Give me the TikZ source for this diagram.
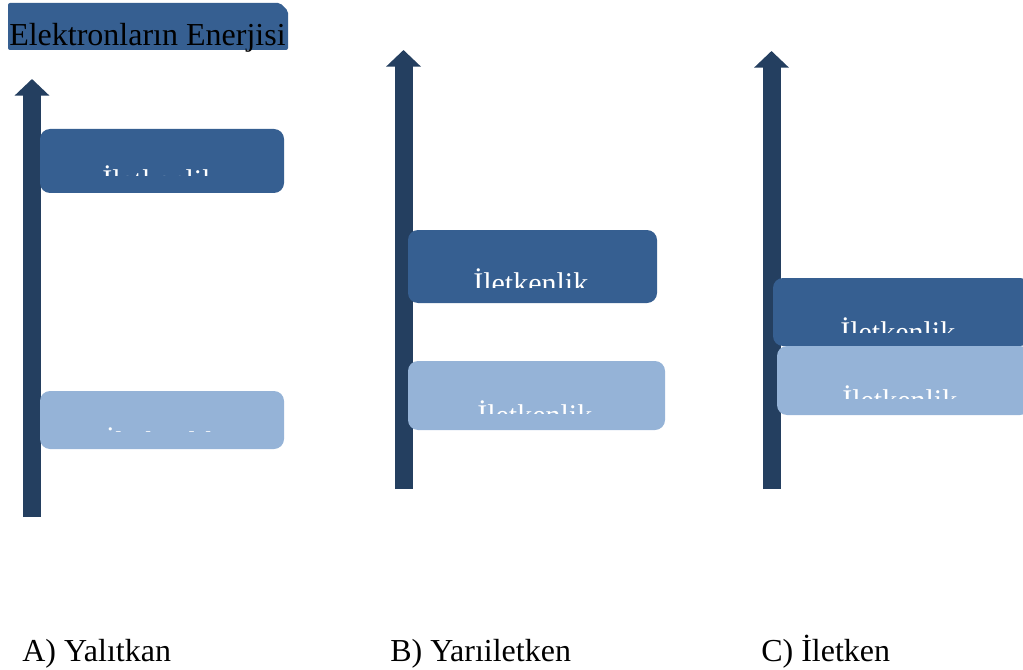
\documentclass[tikz,border=0pt]{standalone}
\usepackage{fontspec}
\setmainfont{Liberation Serif}
\usetikzlibrary{arrows.meta}
\definecolor{axisblue}{HTML}{243F60}
\definecolor{banddark}{HTML}{365F91}
\definecolor{bandlight}{HTML}{95B3D7}
\begin{document}
\begin{tikzpicture}[x=0.75pt,y=-0.75pt,
  axis/.style={draw=axisblue, line width=13.5pt,
    -{Triangle[length=12.5pt,width=25.5pt]}},
  darkband/.style={fill=banddark, rounded corners=7.5pt},
  lightband/.style={fill=bandlight, rounded corners=7.5pt},
  bandtext/.style={text=white, inner sep=0pt, anchor=base west,
    font=\fontsize{22.5}{26}\selectfont},
  caption/.style={inner sep=0pt, anchor=base west,
    font=\fontsize{24}{28}\selectfont}]
\useasboundingbox (0,0) rectangle (1023,670);

% heading tab
\fill[banddark, rounded corners=1.5pt] (8,50) -- (8,3) -- (280,3) -- (288,11) -- (288,50) -- cycle;
\node[caption] (title) at (9,46) {Elektronların Enerjisi};

% energy axes
\coordinate (A0) at (32,517);  \coordinate (A1) at (32,79);
\coordinate (B0) at (403.5,489); \coordinate (B1) at (403.5,50);
\coordinate (C0) at (771.5,489); \coordinate (C1) at (771.5,51);
\draw[axis] (A0) -- (A1);
\draw[axis] (B0) -- (B1);
\draw[axis] (C0) -- (C1);

% A) insulator: wide gap
\fill[darkband] (40,129) rectangle (284,193);
\begin{scope}
  \clip (40,129) rectangle (284,176);
  \node[bandtext] (Acb) at (102,191) {İletkenlik};
\end{scope}
\fill[lightband] (40,391) rectangle (284,449);
\begin{scope}
  \clip (40,391) rectangle (284,431);
  \node[bandtext] (Avb) at (105,452) {İletkenlik};
\end{scope}

% B) semiconductor: narrow gap
\fill[darkband] (408,230) rectangle (657,303);
\begin{scope}
  \clip (408,230) rectangle (657,287);
  \node[bandtext] (Bcb) at (473,293) {İletkenlik};
\end{scope}
\fill[lightband] (408,361) rectangle (665,430);
\begin{scope}
  \clip (408,361) rectangle (665,413);
  \node[bandtext] (Bvb) at (477,425) {İletkenlik};
\end{scope}

% C) conductor: overlapping bands
\fill[darkband] (773,278) rectangle (1030,346);
\begin{scope}
  \clip (773,278) rectangle (1023,332);
  \node[bandtext] (Ccb) at (840,342) {İletkenlik};
\end{scope}
\fill[lightband] (777,346) rectangle (1030,415);
\begin{scope}
  \clip (777,346) rectangle (1023,398);
  \node[bandtext] (Cvb) at (842,410) {İletkenlik};
\end{scope}

% captions
\node[caption] (capA) at (22,661) {A) Yalıtkan};
\node[caption] (capB) at (390,661) {B) Yarıiletken};
\node[caption] (capC) at (761,661) {C) İletken};
\end{tikzpicture}
\end{document}
